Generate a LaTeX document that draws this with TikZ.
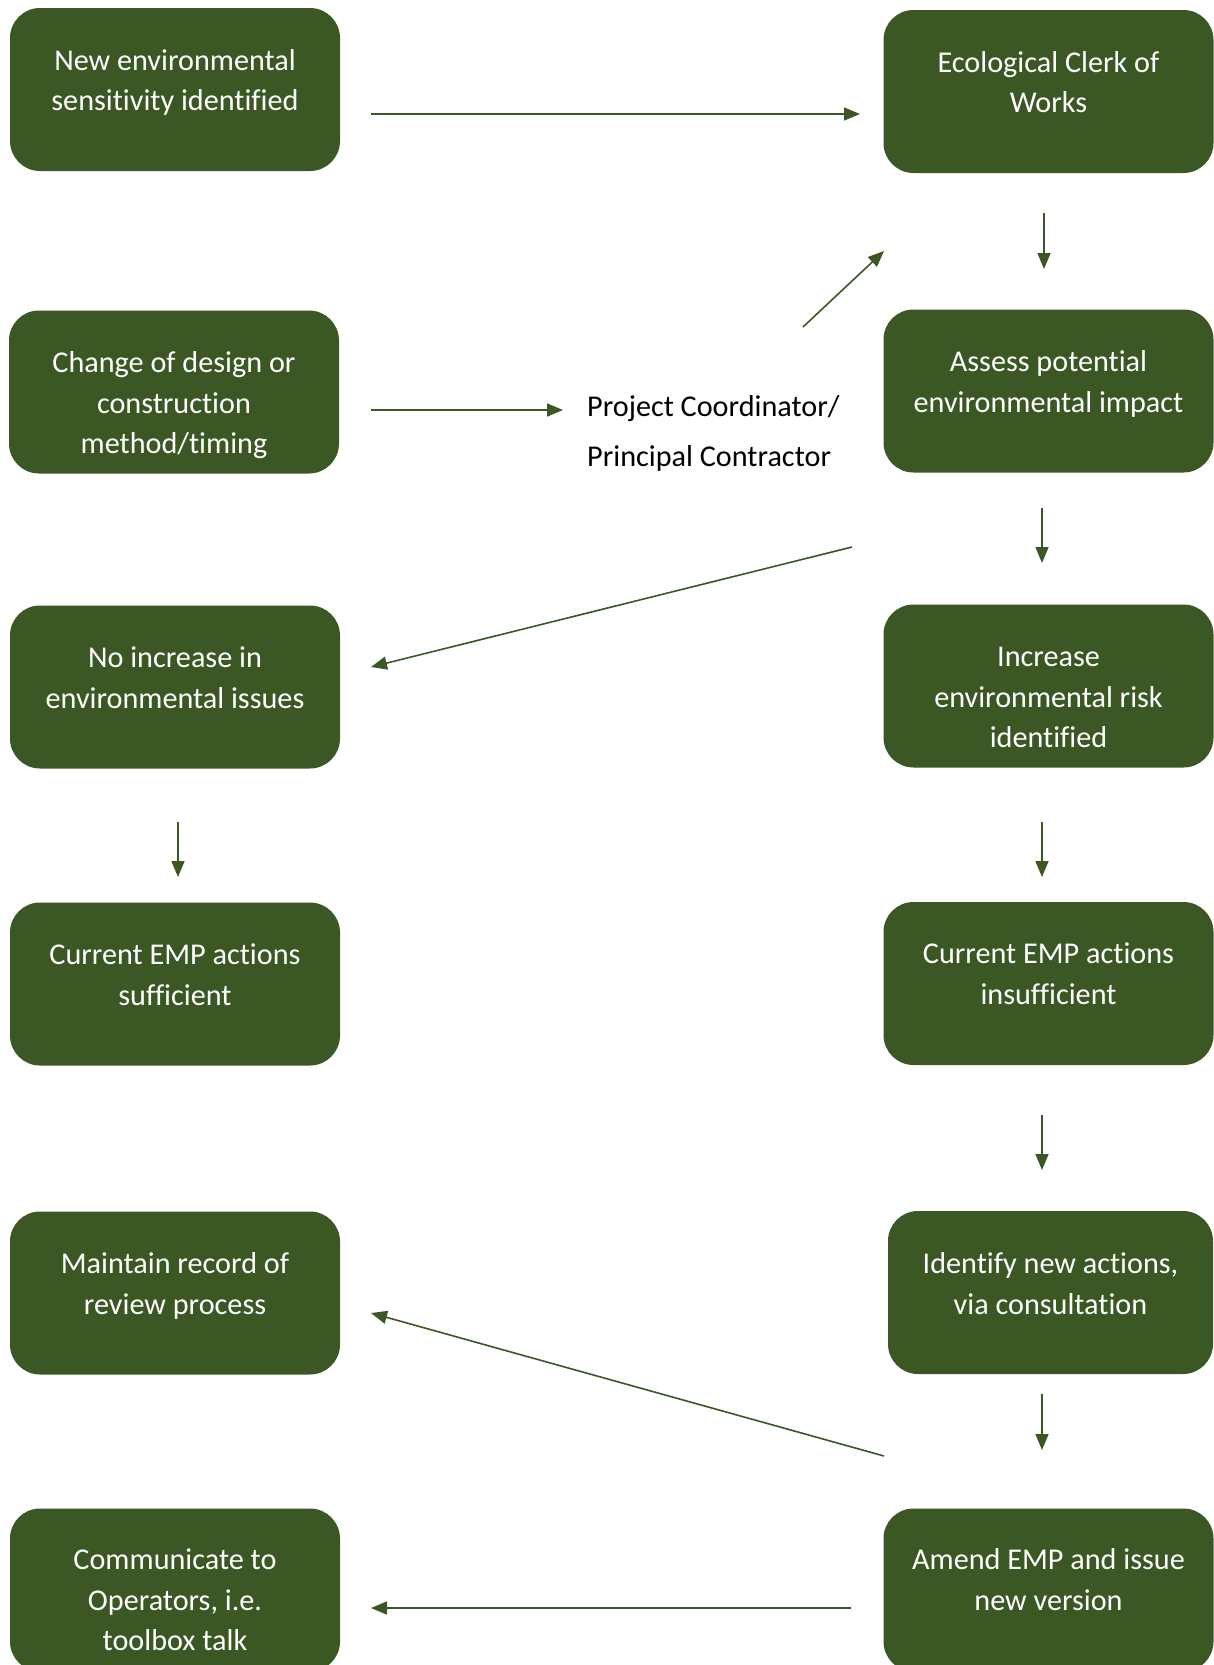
\documentclass[tikz,border=0pt]{standalone}
\usepackage{fontspec}
\setmainfont{Carlito}[Ligatures=NoCommon]
\usetikzlibrary{arrows.meta}
\definecolor{boxgreen}{RGB}{59,87,36}
\newcommand{\mystrut}{\rule{0pt}{25pt}}
\begin{document}
\begin{tikzpicture}[x=1pt,y=-1pt,
  gbox/.style={fill=boxgreen, draw=none, rounded corners=30pt, inner sep=0pt,
    minimum width=330pt, minimum height=163pt},
  btxt/.style={text=white, font=\fontsize{30.2}{40.5}\selectfont, align=center, inner sep=0pt, anchor=north},
  ptxt/.style={text=black, font=\fontsize{30.2}{50}\selectfont, align=left, inner sep=0pt, anchor=north west},
  arr/.style={draw=boxgreen, line width=1.6pt, -{Triangle[length=16pt,width=13pt]}}]
\useasboundingbox (0,0) rectangle (1214,1665);

% boxes
\node[gbox] (L1) at (175,89.5) {};
\node[gbox] (R1) at (1048.5,91.5) {};
\node[gbox] (L2) at (174,392) {};
\node[gbox] (R2) at (1048.5,391) {};
\node[gbox] (L3) at (175,687) {};
\node[gbox] (R3) at (1048.5,686) {};
\node[gbox] (L4) at (175,984) {};
\node[gbox] (R4) at (1048.5,983.5) {};
\node[gbox] (L5) at (175,1293) {};
\node[gbox, minimum width=325pt] (R5) at (1050.5,1292.5) {};
\node[gbox] (L6) at (175,1590) {};
\node[gbox] (R6) at (1048.5,1590) {};

% texts (first line x-height centre at top+51)
\node[btxt] (L1t) at (175,8.5+36.3) {\mystrut New environmental\\sensitivity identified};
\node[btxt] (R1t) at (1048.5,10.5+36.3) {\mystrut Ecological Clerk of\\Works};
\begin{scope}
\clip (0,0) rectangle (1214,458.5);
\node[btxt] (L2t) at (174,311+36.3) {\mystrut Change of design or\\construction\\method/timing};
\end{scope}
\node[btxt] (R2t) at (1048.5,310+36.3) {\mystrut Assess potential\\environmental impact};
\node[btxt] (L3t) at (175,606+36.3) {\mystrut No increase in\\environmental issues};
\node[btxt] (R3t) at (1048.5,605+36.3) {\mystrut Increase\\environmental risk\\identified};
\node[btxt] (L4t) at (175,903+36.3) {\mystrut Current EMP actions\\sufficient};
\node[btxt] (R4t) at (1048.5,902+36.3) {\mystrut Current EMP actions\\insufficient};
\node[btxt] (L5t) at (175,1212+36.3) {\mystrut Maintain record of\\review process};
\node[btxt] (R5t) at (1050.5,1212+36.3) {\mystrut Identify new actions,\\via consultation};
\node[btxt] (L6t) at (175,1508+36.3) {\mystrut Communicate to\\Operators, i.e.\\toolbox talk};
\node[btxt] (R6t) at (1048.5,1508+36.3) {\mystrut Amend EMP and issue\\new version};

\node[ptxt] (PC) at (587,391.5) {\mystrut Project Coordinator/\\Principal Contractor};

% arrow end points
\coordinate (a1s) at (371,114);  \coordinate (a1e) at (860,114);
\coordinate (a2s) at (803,327);  \coordinate (a2e) at (884,251);
\coordinate (a3s) at (371,410);  \coordinate (a3e) at (563,410);
\coordinate (a4s) at (1044,213); \coordinate (a4e) at (1044,269);
\coordinate (a5s) at (1042,508); \coordinate (a5e) at (1042,563);
\coordinate (a6s) at (852,547);  \coordinate (a6e) at (371,667);
\coordinate (a7s) at (178,822);  \coordinate (a7e) at (178,877);
\coordinate (a8s) at (1042,822); \coordinate (a8e) at (1042,877);
\coordinate (a9s) at (1042,1115); \coordinate (a9e) at (1042,1170);
\coordinate (a10s) at (884,1456); \coordinate (a10e) at (371,1313);
\coordinate (a11s) at (1042,1394); \coordinate (a11e) at (1042,1450);
\coordinate (a12s) at (851,1608); \coordinate (a12e) at (371,1608);

\foreach \i in {1,...,12} { \draw[arr] (a\i s) -- (a\i e); }
\end{tikzpicture}
\end{document}
